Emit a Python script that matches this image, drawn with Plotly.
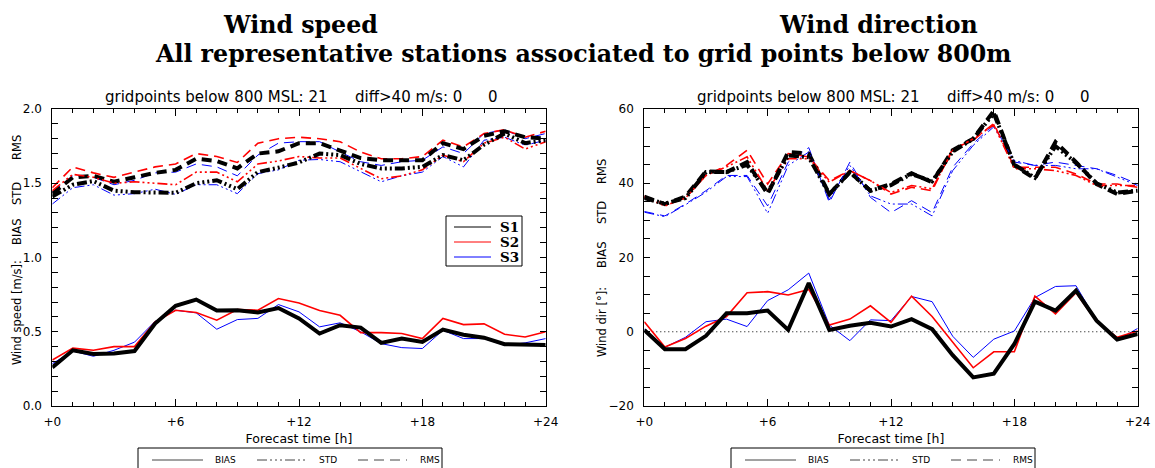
import plotly.graph_objects as go

W, H = 1155, 468

hours = list(range(25))
tick_hours = [0, 6, 12, 18, 24]
tick_text = ["+0", "+6", "+12", "+18", "+24"]
station_names = ["S1", "S2", "S3"]

# Wind speed scores [m/s]
ws_bias_s1 = [0.26, 0.375, 0.35, 0.353, 0.37, 0.555, 0.675, 0.717, 0.643, 0.645, 0.63, 0.66, 0.59,
              0.488, 0.544, 0.528, 0.425, 0.454, 0.431, 0.515, 0.48, 0.46, 0.416, 0.416, 0.41]
ws_bias_s2 = [0.31, 0.39, 0.375, 0.40, 0.40, 0.566, 0.645, 0.63, 0.578, 0.65, 0.645, 0.724, 0.694,
              0.643, 0.611, 0.494, 0.494, 0.488, 0.454, 0.59, 0.548, 0.553, 0.483, 0.465, 0.50]
ws_bias_s3 = [0.285, 0.37, 0.335, 0.375, 0.43, 0.57, 0.645, 0.627, 0.517, 0.582, 0.59, 0.683, 0.634,
              0.533, 0.56, 0.5, 0.42, 0.393, 0.387, 0.51, 0.454, 0.454, 0.409, 0.425, 0.454]
ws_std_s1 = [1.41, 1.49, 1.515, 1.45, 1.44, 1.44, 1.435, 1.50, 1.52, 1.46, 1.575, 1.605, 1.64,
             1.70, 1.69, 1.63, 1.60, 1.60, 1.61, 1.69, 1.655, 1.76, 1.835, 1.77, 1.79]
ws_std_s2 = [1.45, 1.56, 1.54, 1.50, 1.51, 1.50, 1.49, 1.575, 1.575, 1.51, 1.63, 1.65, 1.68,
             1.67, 1.67, 1.60, 1.53, 1.55, 1.59, 1.69, 1.645, 1.77, 1.81, 1.73, 1.78]
ws_std_s3 = [1.36, 1.47, 1.49, 1.42, 1.43, 1.46, 1.425, 1.49, 1.49, 1.43, 1.565, 1.59, 1.655,
             1.66, 1.645, 1.575, 1.51, 1.55, 1.575, 1.68, 1.61, 1.79, 1.81, 1.756, 1.79]
ws_rms_s1 = [1.43, 1.54, 1.55, 1.51, 1.54, 1.57, 1.59, 1.665, 1.65, 1.60, 1.70, 1.715, 1.77,
             1.77, 1.72, 1.67, 1.655, 1.655, 1.655, 1.77, 1.73, 1.82, 1.85, 1.81, 1.80]
ws_rms_s2 = [1.47, 1.61, 1.57, 1.54, 1.575, 1.61, 1.63, 1.70, 1.68, 1.64, 1.77, 1.80, 1.81,
             1.80, 1.78, 1.71, 1.665, 1.665, 1.68, 1.79, 1.745, 1.835, 1.86, 1.81, 1.85]
ws_rms_s3 = [1.44, 1.55, 1.54, 1.49, 1.52, 1.57, 1.575, 1.63, 1.61, 1.55, 1.69, 1.77, 1.78,
             1.78, 1.71, 1.645, 1.62, 1.645, 1.655, 1.745, 1.70, 1.835, 1.86, 1.80, 1.835]

# Wind direction scores [deg]
wd_bias_s1 = [0.45, -4.7, -4.7, -1.1, 5.0, 5.0, 5.7, 0.5, 13.1, 0.5, 1.6, 2.4, 1.4,
              3.4, 0.7, -6.3, -12.3, -11.3, -3.3, 8.1, 5.7, 11.1, 3.0, -2.1, -0.6]
wd_bias_s2 = [2.7, -4.1, -1.8, 1.5, 4.1, 10.5, 10.8, 9.9, 11.4, 1.8, 3.4, 7.0, 2.5,
              9.6, 4.1, -2.7, -9.7, -5.4, -5.4, 9.6, 4.8, 10.5, 2.7, -1.5, 0.2]
wd_bias_s3 = [0.7, -4.2, -1.5, 2.7, 3.4, 1.4, 8.4, 11.3, 15.8, 1.8, -2.4, 3.2, 3.0,
              9.5, 8.1, -1.2, -6.9, -2.0, 0.2, 9.2, 12.2, 12.4, 3.0, -2.3, 0.9]
wd_std_s1 = [36.0, 34.5, 36.0, 43.0, 43.0, 45.0, 37.5, 47.5, 47.0, 37.0, 43.0, 38.0, 39.5,
             42.5, 40.5, 48.5, 52.0, 58.8, 45.0, 41.5, 50.0, 45.5, 40.0, 37.5, 38.0]
wd_std_s2 = [36.2, 33.9, 36.0, 42.1, 44.4, 47.1, 38.0, 46.6, 46.6, 40.3, 43.4, 40.7, 37.5,
             39.4, 38.5, 48.9, 52.0, 55.7, 43.9, 43.9, 43.4, 42.1, 39.4, 39.4, 39.4]
wd_std_s3 = [32.2, 31.0, 34.2, 37.6, 41.8, 41.8, 31.9, 44.8, 48.4, 35.5, 44.8, 36.6, 34.4,
             34.4, 31.2, 43.4, 50.2, 55.2, 46.1, 44.8, 44.8, 43.9, 43.9, 41.6, 39.4]
wd_rms_s1 = [36.4, 34.4, 36.4, 43.2, 43.0, 45.7, 37.1, 48.4, 48.0, 37.1, 43.0, 38.0, 39.8,
             42.7, 40.3, 48.9, 52.0, 59.5, 44.8, 41.2, 51.1, 45.7, 39.8, 37.1, 38.0]
wd_rms_s2 = [36.6, 34.4, 36.2, 42.1, 44.8, 48.9, 39.8, 48.0, 47.1, 40.7, 43.4, 40.7, 37.1,
             38.9, 38.0, 49.3, 51.6, 56.1, 44.3, 44.3, 44.3, 42.5, 39.8, 39.8, 38.9]
wd_rms_s3 = [32.4, 31.2, 34.4, 38.0, 42.1, 42.1, 33.9, 45.7, 49.6, 34.8, 45.7, 36.2, 32.1,
             35.3, 32.1, 44.3, 50.7, 55.7, 45.7, 44.8, 45.7, 44.8, 43.9, 42.1, 39.8]

station_colors = ["#000000", "#ff0000", "#0000ff"]
station_widths = [4, 1.6, 1]
score_dash = {"BIAS": "solid",
              "STD": "10px,3px,2px,3px,2px,3px,2px,3px",
              "RMS": "10px,6px"}

SANS = "DejaVu Sans"
SERIF = "DejaVu Serif"


def px(x):
    return x / W


def py(y):
    return 1 - y / H


fig = go.Figure()

panels = [
    ("x", "y", {"BIAS": [ws_bias_s1, ws_bias_s2, ws_bias_s3],
                "STD": [ws_std_s1, ws_std_s2, ws_std_s3],
                "RMS": [ws_rms_s1, ws_rms_s2, ws_rms_s3]}),
    ("x2", "y2", {"BIAS": [wd_bias_s1, wd_bias_s2, wd_bias_s3],
                  "STD": [wd_std_s1, wd_std_s2, wd_std_s3],
                  "RMS": [wd_rms_s1, wd_rms_s2, wd_rms_s3]}),
]

for xa, ya, scores in panels:
    for score in ["RMS", "STD", "BIAS"]:
        for i in [2, 1, 0]:
            fig.add_trace(go.Scatter(
                x=hours, y=scores[score][i], mode="lines", xaxis=xa, yaxis=ya,
                name=f"{station_names[i]} {score}", showlegend=False, hoverinfo="skip",
                line=dict(color=station_colors[i], width=station_widths[i],
                          dash=score_dash[score]),
            ))

# zero reference for the direction bias
fig.add_shape(type="line", xref="x2", yref="y2", x0=hours[0], x1=hours[-1], y0=0, y1=0,
              line=dict(color="black", width=1, dash="1px,3px"), layer="below")

PANEL_SHIFT = 592
xdom1 = [px(52.3), px(545.7)]
xdom2 = [px(52.3 + PANEL_SHIFT), px(545.7 + PANEL_SHIFT)]
ydom = [py(406), py(109)]

common_x = dict(range=[0, 24], tickmode="array", tickvals=tick_hours, ticktext=tick_text,
                ticks="inside", ticklen=7, tickcolor="black", tickwidth=1,
                showline=True, linecolor="black", linewidth=1, mirror="allticks",
                showgrid=False, zeroline=False, ticklabelstandoff=5, automargin=False,
                minor=dict(dtick=1, ticks="inside", ticklen=4, tickcolor="black", showgrid=False),
                tickfont=dict(family=SANS, size=12, color="black"),
                title=dict(text="Forecast time [h]", font=dict(family=SANS, size=12.5, color="black"),
                           standoff=5))
common_y = dict(ticks="inside", ticklen=6, tickcolor="black", tickwidth=1,
                showline=True, linecolor="black", linewidth=1, mirror="allticks",
                showgrid=False, zeroline=False, ticklabelstandoff=7, automargin=False,
                tickfont=dict(family=SANS, size=12, color="black"))

fig.update_layout(
    width=W, height=H, margin=dict(l=0, r=0, t=0, b=0, autoexpand=False),
    paper_bgcolor="white", plot_bgcolor="white", showlegend=False,
    xaxis=dict(domain=xdom1, anchor="y", **common_x),
    xaxis2=dict(domain=xdom2, anchor="y2", **common_x),
    yaxis=dict(domain=ydom, anchor="x", range=[0, 2], dtick=0.5, tickformat=".1f",
               minor=dict(dtick=0.1, ticks="inside", ticklen=6, tickcolor="black", showgrid=False),
               **common_y),
    yaxis2=dict(domain=ydom, anchor="x2", range=[-20, 60], dtick=20,
                minor=dict(dtick=5, ticks="inside", ticklen=6, tickcolor="black", showgrid=False),
                **common_y),
)

ann = []


def text(x, y, s, size, family=SANS, bold=False, angle=0, xanchor="center"):
    ann.append(dict(x=px(x), y=py(y), xref="paper", yref="paper", text=f"<b>{s}</b>" if bold else s,
                    showarrow=False, xanchor=xanchor, yanchor="middle", textangle=angle,
                    font=dict(family=family, size=size, color="black")))


# titles
text(300, 25, "Wind speed", 23.7, SERIF, True)
text(878, 25, "Wind direction", 23.7, SERIF, True)
text(583, 54, "All representative stations associated to grid points below 800m", 23.7, SERIF, True)

# run information above each panel
for off in [0, PANEL_SHIFT]:
    text(103 + off, 97, "gridpoints below 800 MSL: 21", 15, xanchor="left")
    text(353 + off, 97, "diff>40 m/s: 0", 15, xanchor="left")
    text(486 + off, 97, "0", 15, xanchor="left")

# rotated axis labels
for s, yc in [("Wind speed [m/s]:", 313), ("BIAS", 232), ("STD", 194), ("RMS", 148)]:
    text(17, yc, s, 11.5, angle=-90)
for s, yc in [("Wind dir [°]:", 322), ("BIAS", 255), ("STD", 213), ("RMS", 172)]:
    text(602, yc, s, 11.5, angle=-90)

shapes = []

# station key inside the speed panel
shapes.append(dict(type="rect", xref="paper", yref="paper", x0=px(446), x1=px(522),
                   y0=py(266), y1=py(216), line=dict(color="black", width=1), fillcolor="white"))
for i, yk in enumerate([227, 242, 257]):
    shapes.append(dict(type="line", xref="paper", yref="paper", x0=px(454), x1=px(491),
                       y0=py(yk), y1=py(yk), line=dict(color=station_colors[i], width=1)))
    text(498, yk, station_names[i], 13.5, SERIF, True, xanchor="left")

# score key below each panel
for off in [0, 593]:
    shapes.append(dict(type="rect", xref="paper", yref="paper", x0=px(138 + off), x1=px(442 + off),
                       y0=py(475), y1=py(448), line=dict(color="black", width=1)))
    for (x0, x1, tx, score) in [(152, 203, 213, "BIAS"), (257, 308, 317, "STD"), (358, 407, 418, "RMS")]:
        shapes.append(dict(type="line", xref="paper", yref="paper", x0=px(x0 + off), x1=px(x1 + off),
                           y0=py(460), y1=py(460),
                           line=dict(color="#444444", width=1, dash=score_dash[score])))
        text(tx + off, 460, score, 9, xanchor="left")

fig.update_layout(annotations=ann, shapes=fig.layout.shapes + tuple(shapes))

fig.write_html("out.html")
